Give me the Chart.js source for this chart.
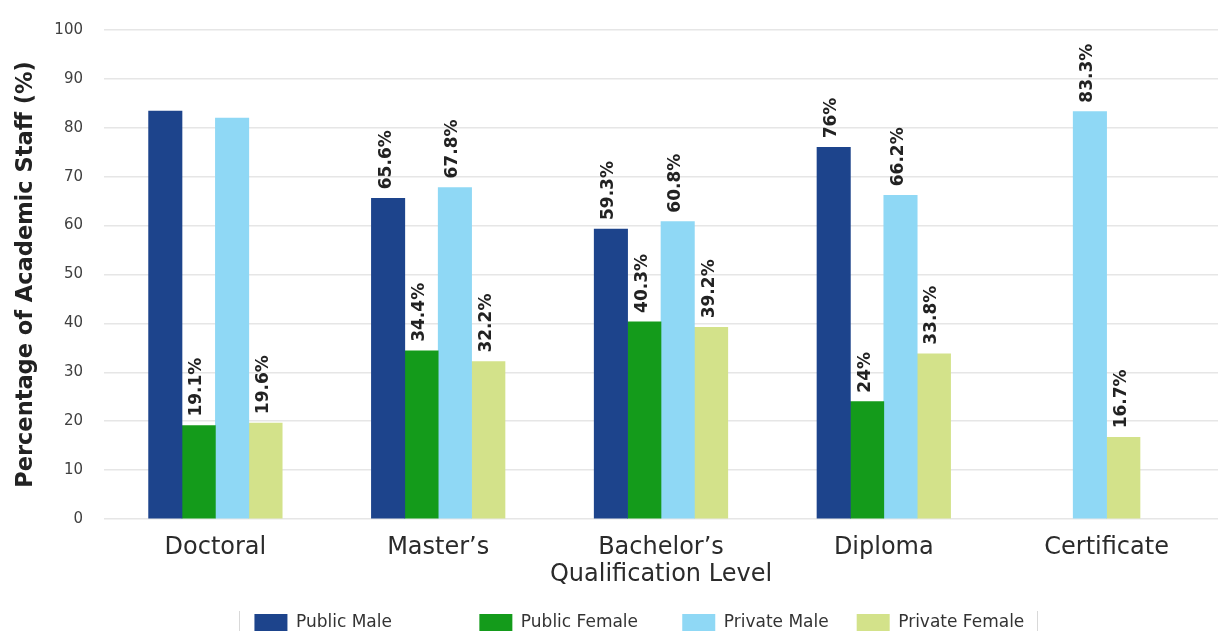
<!DOCTYPE html>
<html>
<head>
<meta charset="utf-8">
<script src="https://cdn.jsdelivr.net/npm/chart.js@4.4.1/dist/chart.umd.min.js"></script>
<style>
  html, body { margin: 0; padding: 0; background: #ffffff; }
  #wrap { width: 1218px; height: 631px; position: relative; }
</style>
</head>
<body>
<div id="wrap"><canvas id="c" width="1218" height="631"></canvas></div>
<script>
const categories = ["Doctoral", "Master\u2019s", "Bachelor\u2019s", "Diploma", "Certificate"];
const seriesNames = ["Public Male", "Public Female", "Private Male", "Private Female"];
const publicMale    = [83.4, 65.6, 59.3, 76.0, null];
const publicFemale  = [19.1, 34.4, 40.3, 24.0, null];
const privateMale   = [82.0, 67.8, 60.8, 66.2, 83.3];
const privateFemale = [19.6, 32.2, 39.2, 33.8, 16.7];
const publicMaleLabels    = [null, "65.6%", "59.3%", "76%", null];
const publicFemaleLabels  = ["19.1%", "34.4%", "40.3%", "24%", null];
const privateMaleLabels   = [null, "67.8%", "60.8%", "66.2%", "83.3%"];
const privateFemaleLabels = ["19.6%", "32.2%", "39.2%", "33.8%", "16.7%"];
const yTicks = [0, 10, 20, 30, 40, 50, 60, 70, 80, 90, 100];

const colors = ["#1d448c", "#149b1b", "#8fd8f5", "#d3e28a"];
const FONT = "'DejaVu Sans', sans-serif";
// trailing spaces reproduce the uneven legend spacing of the original
const legendSpacing = [11, 3, 0, 8];

const valueLabels = {
  id: "valueLabels",
  afterDatasetsDraw(chart) {
    const ctx = chart.ctx;
    ctx.save();
    ctx.font = "bold 17px " + FONT;
    ctx.fillStyle = "#222222";
    ctx.textAlign = "left";
    ctx.textBaseline = "middle";
    chart.data.datasets.forEach((ds, di) => {
      const meta = chart.getDatasetMeta(di);
      meta.data.forEach((bar, i) => {
        const txt = ds.valueText[i];
        if (!txt || ds.data[i] == null) return;
        ctx.save();
        ctx.translate(bar.x - 2, bar.y - 9);
        ctx.rotate(-Math.PI / 2);
        ctx.fillText(txt, 0, 0);
        ctx.restore();
      });
    });
    ctx.restore();
  }
};

const legendTweaks = {
  id: "legendTweaks",
  beforeLayout(chart) {
    const lg = chart.legend;
    if (lg && !lg._fitWrapped) {
      const orig = lg.fit;
      lg.fit = function () { orig.call(this); this.height = 45; };
      lg._fitWrapped = true;
    }
  },
  afterDraw(chart) {
    const lg = chart.legend;
    if (!lg || !lg.legendHitBoxes || !lg.legendHitBoxes.length) return;
    const hb = lg.legendHitBoxes;
    const ctx = chart.ctx;
    ctx.save();
    ctx.font = "17px " + FONT;
    const lastTxt = seriesNames[seriesNames.length - 1];
    const x1 = Math.round(hb[0].left - 15);
    const last = hb[hb.length - 1];
    const x2 = Math.round(last.left + 33 + 8.5 + ctx.measureText(lastTxt).width + 13);
    const yTop = 611;
    ctx.strokeStyle = "#d9d9d9";
    ctx.lineWidth = 1;
    ctx.beginPath();
    ctx.moveTo(x1 + 0.5, yTop); ctx.lineTo(x1 + 0.5, 631);
    ctx.moveTo(x2 + 0.5, yTop); ctx.lineTo(x2 + 0.5, 631);
    ctx.stroke();
    ctx.restore();
  }
};

const seriesData = [publicMale, publicFemale, privateMale, privateFemale];
const seriesLabels = [publicMaleLabels, publicFemaleLabels, privateMaleLabels, privateFemaleLabels];

new Chart(document.getElementById("c"), {
  type: "bar",
  data: {
    labels: categories,
    datasets: seriesNames.map((name, k) => ({
      label: name,
      data: seriesData[k],
      valueText: seriesLabels[k],
      backgroundColor: colors[k],
      borderWidth: 0,
      skipNull: true,
      barThickness: 33.4
    }))
  },
  options: {
    responsive: false,
    animation: false,
    devicePixelRatio: 1,
    layout: { padding: { left: 13, right: 0, top: 18, bottom: 0 } },
    plugins: {
      legend: {
        position: "bottom",
        fullSize: false,
        labels: {
          font: { family: FONT, size: 17 },
          color: "#333333",
          boxWidth: 33,
          boxHeight: 18,
          padding: 28,
          generateLabels(chart) {
            return chart.data.datasets.map((ds, i) => ({
              text: ds.label + " ".repeat(legendSpacing[i]),
              fillStyle: ds.backgroundColor,
              strokeStyle: ds.backgroundColor,
              lineWidth: 0,
              hidden: false,
              datasetIndex: i,
              fontColor: "#333333"
            }));
          }
        }
      },
      tooltip: { enabled: false }
    },
    scales: {
      x: {
        afterFit(scale) { scale.height = 67; },
        grid: { display: false },
        border: { display: false },
        ticks: { font: { family: FONT, size: 24 }, color: "#2b2b2b", padding: 6 },
        title: {
          display: true,
          text: "Qualification Level",
          font: { family: FONT, size: 24 },
          color: "#2b2b2b",
          padding: { top: 4, bottom: -3 }
        }
      },
      y: {
        min: 0,
        max: 100,
        afterBuildTicks(scale) { scale.ticks = yTicks.map(v => ({ value: v })); },
        afterFit(scale) { scale.width = 91; },
        grid: { color: "#e6e6e6", lineWidth: 1.5, drawTicks: false },
        border: { display: false },
        ticks: { font: { family: FONT, size: 15 }, color: "#404040", padding: 21 },
        title: {
          display: true,
          text: "Percentage of Academic Staff (%)",
          font: { family: FONT, size: 22.5, weight: "bold" },
          color: "#222222",
          padding: { top: 0, bottom: 0 }
        }
      }
    }
  },
  plugins: [valueLabels, legendTweaks]
});
</script>
</body>
</html>
